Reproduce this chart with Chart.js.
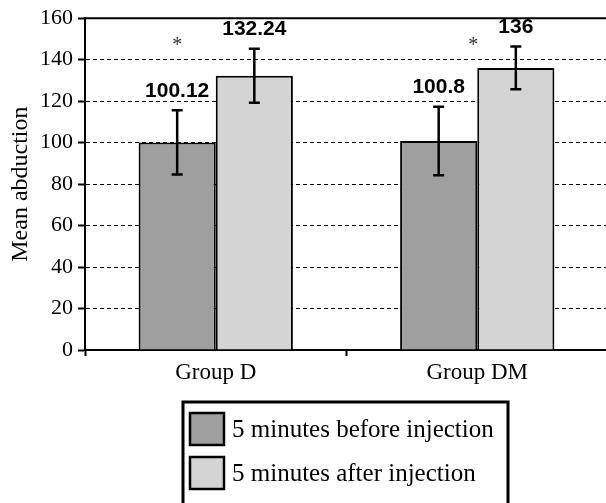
<!DOCTYPE html>
<html>
<head>
<meta charset="utf-8">
<script src="https://cdn.jsdelivr.net/npm/chart.js@4"></script>
<style>
  html, body { margin: 0; padding: 0; background: #fff; overflow: hidden; width: 606px; height: 503px; }
  #wrap { position: absolute; left: 0; top: 0; width: 612px; height: 503px; }
</style>
</head>
<body>
<div id="wrap"><canvas id="c" width="612" height="503"></canvas></div>
<script>
// ---- data ----
const categories = ['Group D', 'Group DM'];
const seriesLabels = ['5 minutes before injection', '5 minutes after injection'];
const beforeValues = [100.12, 100.8];
const afterValues = [132.24, 136];
const beforeErrors = [15.5, 16.5];
const afterErrors = [13, 10.3];
const valueLabels = [['100.12', '100.8'], ['132.24', '136']];
const significance = ['*', '*'];
const yTicks = [0, 20, 40, 60, 80, 100, 120, 140, 160];
const yTitle = 'Mean abduction';

const errors = [beforeErrors, afterErrors];
const SERIF = '"Liberation Serif", "Times New Roman", serif';
const SANS = '"Liberation Sans", Arial, sans-serif';

const overlay = {
  id: 'overlay',
  afterDatasetsDraw(chart) {
    const ctx = chart.ctx;
    const y = chart.scales.y;
    const area = chart.chartArea;
    // top frame line
    ctx.save();
    ctx.strokeStyle = '#000';
    ctx.lineWidth = 2;
    ctx.beginPath();
    ctx.moveTo(area.left, area.top);
    ctx.lineTo(area.right, area.top);
    ctx.stroke();

    // error bars + value labels
    chart.data.datasets.forEach((ds, di) => {
      const meta = chart.getDatasetMeta(di);
      meta.data.forEach((bar, i) => {
        const v = ds.data[i];
        const e = errors[di][i];
        const yTop = y.getPixelForValue(v + e);
        const yBot = y.getPixelForValue(v - e);
        const cap = 5.5;
        ctx.strokeStyle = '#000';
        ctx.lineWidth = 2.5;
        ctx.beginPath();
        ctx.moveTo(bar.x, yTop); ctx.lineTo(bar.x, yBot);
        ctx.moveTo(bar.x - cap, yTop); ctx.lineTo(bar.x + cap, yTop);
        ctx.moveTo(bar.x - cap, yBot); ctx.lineTo(bar.x + cap, yBot);
        ctx.stroke();
        ctx.fillStyle = '#000';
        ctx.font = 'bold 21px ' + SANS;
        ctx.textAlign = 'center';
        ctx.textBaseline = 'bottom';
        ctx.fillText(valueLabels[di][i], bar.x, yTop - 9);
      });
    });

    // significance markers
    const m0 = chart.getDatasetMeta(0).data;
    const m1 = chart.getDatasetMeta(1).data;
    ctx.font = '20px ' + SERIF;
    ctx.fillStyle = '#333';
    ctx.textAlign = 'center';
    ctx.textBaseline = 'middle';
    significance.forEach((s, i) => {
      const x = i === 0 ? m0[i].x : m1[i].x - m1[i].width / 2 - 4;
      ctx.fillText(s, x, y.getPixelForValue(148) + 3);
    });
    ctx.restore();
  },
  afterDraw(chart) {
    const ctx = chart.ctx;
    ctx.save();
    // legend box
    const bx = 183, by = 402, bw = 325, bh = 120;
    ctx.strokeStyle = '#000';
    ctx.lineWidth = 3;
    ctx.strokeRect(bx, by, bw, bh);
    chart.data.datasets.forEach((ds, di) => {
      const sy = 413 + di * 44;
      ctx.fillStyle = ds.backgroundColor;
      ctx.fillRect(190, sy, 34, 32);
      ctx.lineWidth = 2.5;
      ctx.strokeRect(190, sy, 34, 32);
      ctx.fillStyle = '#000';
      ctx.font = '25px ' + SERIF;
      ctx.textAlign = 'left';
      ctx.textBaseline = 'middle';
      ctx.fillText(ds.label, 232, sy + 17);
    });
    ctx.restore();
  }
};

new Chart(document.getElementById('c'), {
  type: 'bar',
  data: {
    labels: categories,
    datasets: [
      { label: seriesLabels[0], data: beforeValues, backgroundColor: '#9f9f9f', borderColor: '#000', borderWidth: 2 },
      { label: seriesLabels[1], data: afterValues, backgroundColor: '#d4d4d4', borderColor: '#000', borderWidth: 2 }
    ]
  },
  options: {
    responsive: false,
    animation: false,
    devicePixelRatio: 1,
    layout: { padding: { left: 0, right: 4, top: 16, bottom: 0 } },
    datasets: { bar: { categoryPercentage: 0.59, barPercentage: 1 } },
    plugins: { legend: { display: false }, tooltip: { enabled: false } },
    scales: {
      x: {
        grid: { display: true, drawOnChartArea: false, offset: true, color: '#000', tickLength: 6, tickWidth: 2, tickColor: '#000' },
        border: { display: true, color: '#000', width: 2 },
        ticks: { color: '#000', font: { family: SERIF, size: 23 }, padding: 3 },
        afterFit: s => { s.height = 153; }
      },
      y: {
        min: 0, max: 160,
        afterBuildTicks: s => { s.ticks = yTicks.map(v => ({ value: v })); },
        grid: { color: '#000', lineWidth: 1, tickLength: 7, tickWidth: 2, tickColor: '#000', tickBorderDash: [] },
        border: { display: true, color: '#000', width: 2, dash: [4, 3] },
        ticks: { color: '#000', font: { family: SERIF, size: 22 }, padding: 5 },
        title: { display: true, text: yTitle, color: '#000', font: { family: SERIF, size: 24 }, padding: { top: 6, bottom: 0 } },
        afterFit: s => { s.width = 85; }
      }
    }
  },
  plugins: [overlay]
});
</script>
</body>
</html>
